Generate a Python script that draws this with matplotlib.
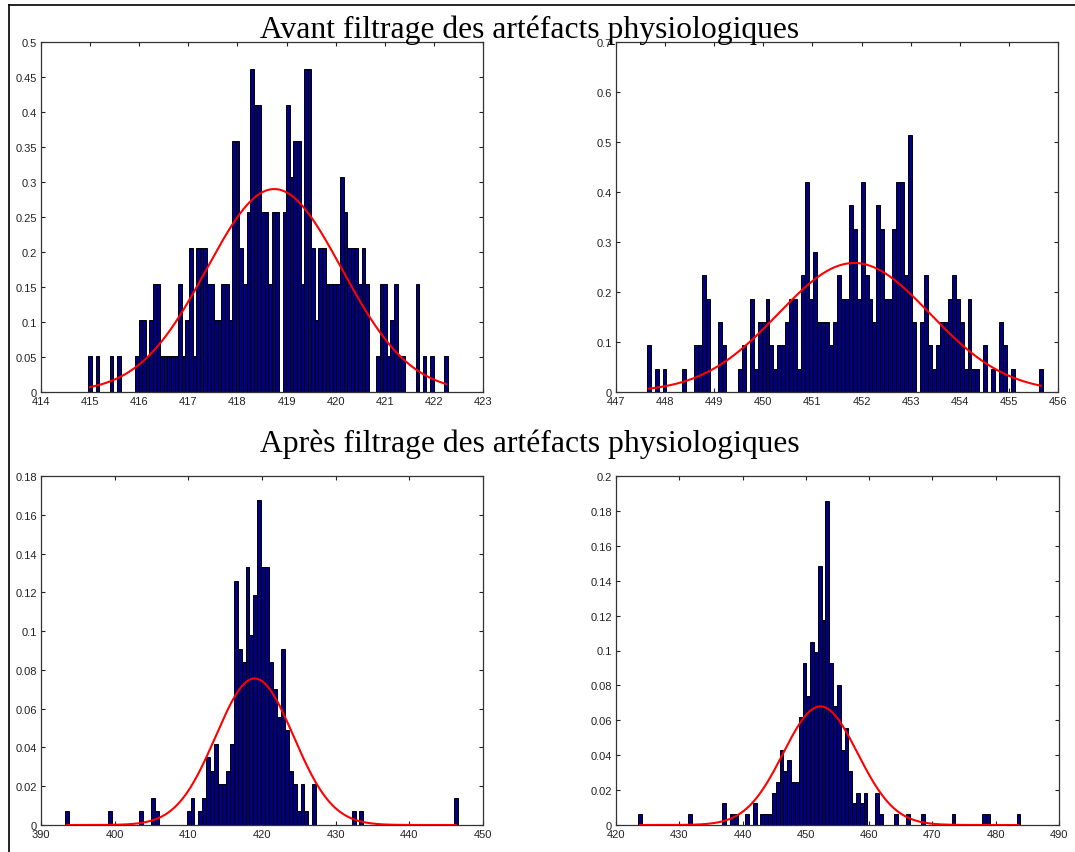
import numpy as np
import matplotlib
matplotlib.use("Agg")
import matplotlib.pyplot as plt
from matplotlib.lines import Line2D

# --- histogram counts, 100 bins per panel ---
tl_counts = [1, 0, 1, 0, 0, 0, 1, 0, 1, 0,
             0, 0, 0, 1, 2, 2, 1, 2, 3, 3,
             1, 1, 1, 1, 1, 3, 1, 2, 4, 1,
             4, 4, 4, 3, 3, 2, 2, 3, 3, 2,
             7, 7, 4, 3, 5, 9, 8, 8, 5, 5,
             3, 5, 5, 0, 5, 8, 6, 7, 7, 3,
             9, 9, 4, 2, 4, 4, 3, 3, 3, 3,
             6, 5, 4, 4, 4, 3, 4, 3, 0, 0,
             1, 3, 3, 1, 2, 3, 1, 1, 0, 0,
             0, 3, 0, 1, 0, 1, 0, 0, 0, 1]
tr_counts = [2, 0, 1, 0, 1, 0, 0, 0, 0, 1,
             0, 0, 2, 2, 5, 4, 0, 0, 3, 2,
             0, 0, 0, 1, 2, 0, 4, 1, 3, 3,
             4, 2, 1, 2, 2, 3, 4, 4, 1, 5,
             9, 4, 6, 3, 3, 3, 2, 3, 5, 4,
             4, 8, 7, 4, 9, 5, 4, 3, 8, 7,
             4, 4, 7, 9, 9, 5, 11, 3, 0, 3,
             5, 2, 1, 2, 3, 3, 4, 5, 4, 3,
             1, 4, 1, 1, 0, 2, 0, 1, 0, 3,
             2, 0, 1, 0, 0, 0, 0, 0, 0, 1]
bl_counts = [1, 0, 0, 0, 0, 0, 0, 0, 0, 0,
             0, 1, 0, 0, 0, 0, 0, 0, 0, 1,
             0, 0, 2, 1, 0, 0, 0, 0, 0, 0,
             0, 1, 2, 0, 1, 2, 5, 4, 6, 3,
             3, 4, 6, 18, 13, 12, 19, 14, 17, 24,
             19, 19, 12, 10, 8, 13, 7, 4, 3, 1,
             3, 1, 0, 3, 0, 0, 0, 0, 0, 0,
             0, 0, 0, 1, 0, 1, 0, 0, 0, 0,
             0, 0, 0, 0, 0, 0, 0, 0, 0, 0,
             0, 0, 0, 0, 0, 0, 0, 0, 0, 2]
br_counts = [1, 0, 0, 0, 0, 0, 0, 0, 0, 0,
             0, 0, 0, 1, 0, 0, 0, 0, 0, 0,
             0, 0, 2, 0, 1, 1, 0, 0, 1, 0,
             2, 0, 1, 1, 1, 3, 4, 7, 5, 6,
             4, 4, 10, 15, 12, 17, 16, 24, 19, 30,
             15, 11, 13, 7, 9, 5, 2, 3, 2, 3,
             0, 0, 3, 1, 0, 0, 0, 1, 0, 0,
             1, 0, 0, 0, 1, 0, 0, 0, 0, 0,
             0, 0, 1, 0, 0, 0, 0, 0, 0, 0,
             1, 1, 0, 0, 0, 0, 0, 0, 0, 1]

# first / last bin centre
tl_range = (415.0, 422.25)
tr_range = (447.665, 455.65)
bl_range = (393.5, 446.3)
br_range = (423.8, 483.6)

# normalized height of one count
tl_unit = 0.0513
tr_unit = 0.0467
bl_unit = 0.00699
br_unit = 0.00618

# normal fit (mean, sigma)
tl_fit = (418.75, 1.376)
tr_fit = (451.85, 1.546)
bl_fit = (419.0, 5.28)
br_fit = (452.3, 5.87)

# axis limits and tick steps
tl_xlim, tl_ylim, tl_xstep, tl_ystep = (414, 423), (0, 0.5), 1, 0.05
tr_xlim, tr_ylim, tr_xstep, tr_ystep = (447, 456), (0, 0.7), 1, 0.1
bl_xlim, bl_ylim, bl_xstep, bl_ystep = (390, 450), (0, 0.18), 10, 0.02
br_xlim, br_ylim, br_xstep, br_ystep = (420, 490), (0, 0.2), 10, 0.02

title_top = "Avant filtrage des artéfacts physiologiques"
title_bottom = "Après filtrage des artéfacts physiologiques"

W, H = 1075, 853
fig = plt.figure(figsize=(W / 100, H / 100), dpi=100)
fig.patch.set_facecolor("white")


def px_axes(left, top, right, bottom):
    return fig.add_axes([left / W, 1 - bottom / H, (right - left) / W, (bottom - top) / H])


def panel(ax, counts, rng, unit, fit, xlim, ylim, xstep, ystep):
    centers = np.linspace(rng[0], rng[1], len(counts))
    width = centers[1] - centers[0]
    heights = np.array(counts) * unit
    keep = heights > 0
    ax.bar(centers[keep], heights[keep], width=width, color="#000080",
           edgecolor="black", linewidth=0.7, zorder=2)
    mu, sd = fit
    xs = np.linspace(rng[0], rng[1], 300)
    ys = np.exp(-0.5 * ((xs - mu) / sd) ** 2) / (sd * np.sqrt(2 * np.pi))
    ax.plot(xs, ys, color="red", linewidth=1.5, zorder=3)
    ax.set_xlim(*xlim)
    ax.set_ylim(*ylim)
    xt = np.arange(xlim[0], xlim[1] + xstep / 2, xstep)
    yt = np.arange(ylim[0], ylim[1] + ystep / 2, ystep)
    ax.set_xticks(xt)
    ax.set_yticks(yt)
    ax.set_xticklabels([f"{v:g}" for v in xt])
    ax.set_yticklabels([f"{round(v, 4):g}" for v in yt])
    ax.tick_params(direction="in", top=True, right=True, length=3, width=0.8,
                   labelsize=8, colors="#222222", pad=3)
    for lab in ax.get_xticklabels() + ax.get_yticklabels():
        lab.set_fontfamily("Liberation Sans")
    for s in ax.spines.values():
        s.set_linewidth(0.9)
        s.set_color("#333333")


panel(px_axes(41, 43, 483, 393), tl_counts, tl_range, tl_unit, tl_fit,
      tl_xlim, tl_ylim, tl_xstep, tl_ystep)
panel(px_axes(616, 43, 1058, 393), tr_counts, tr_range, tr_unit, tr_fit,
      tr_xlim, tr_ylim, tr_xstep, tr_ystep)
panel(px_axes(41, 477, 483, 826), bl_counts, bl_range, bl_unit, bl_fit,
      bl_xlim, bl_ylim, bl_xstep, bl_ystep)
panel(px_axes(616, 477, 1059, 826), br_counts, br_range, br_unit, br_fit,
      br_xlim, br_ylim, br_xstep, br_ystep)

fig.text(530 / W, 1 - 38 / H, title_top, ha="center", va="baseline",
         fontsize=22.8, family="Liberation Serif", zorder=10)
fig.text(530 / W, 1 - 452 / H, title_bottom, ha="center", va="baseline",
         fontsize=22.8, family="Liberation Serif", zorder=10)

# outer frame lines
fig.add_artist(Line2D([9 / W, 1], [1 - 6 / H, 1 - 6 / H], color="black", linewidth=1.2))
fig.add_artist(Line2D([9 / W, 9 / W], [0, 1 - 6 / H], color="black", linewidth=1.2))

fig.savefig("out.png", dpi=100, facecolor="white")
